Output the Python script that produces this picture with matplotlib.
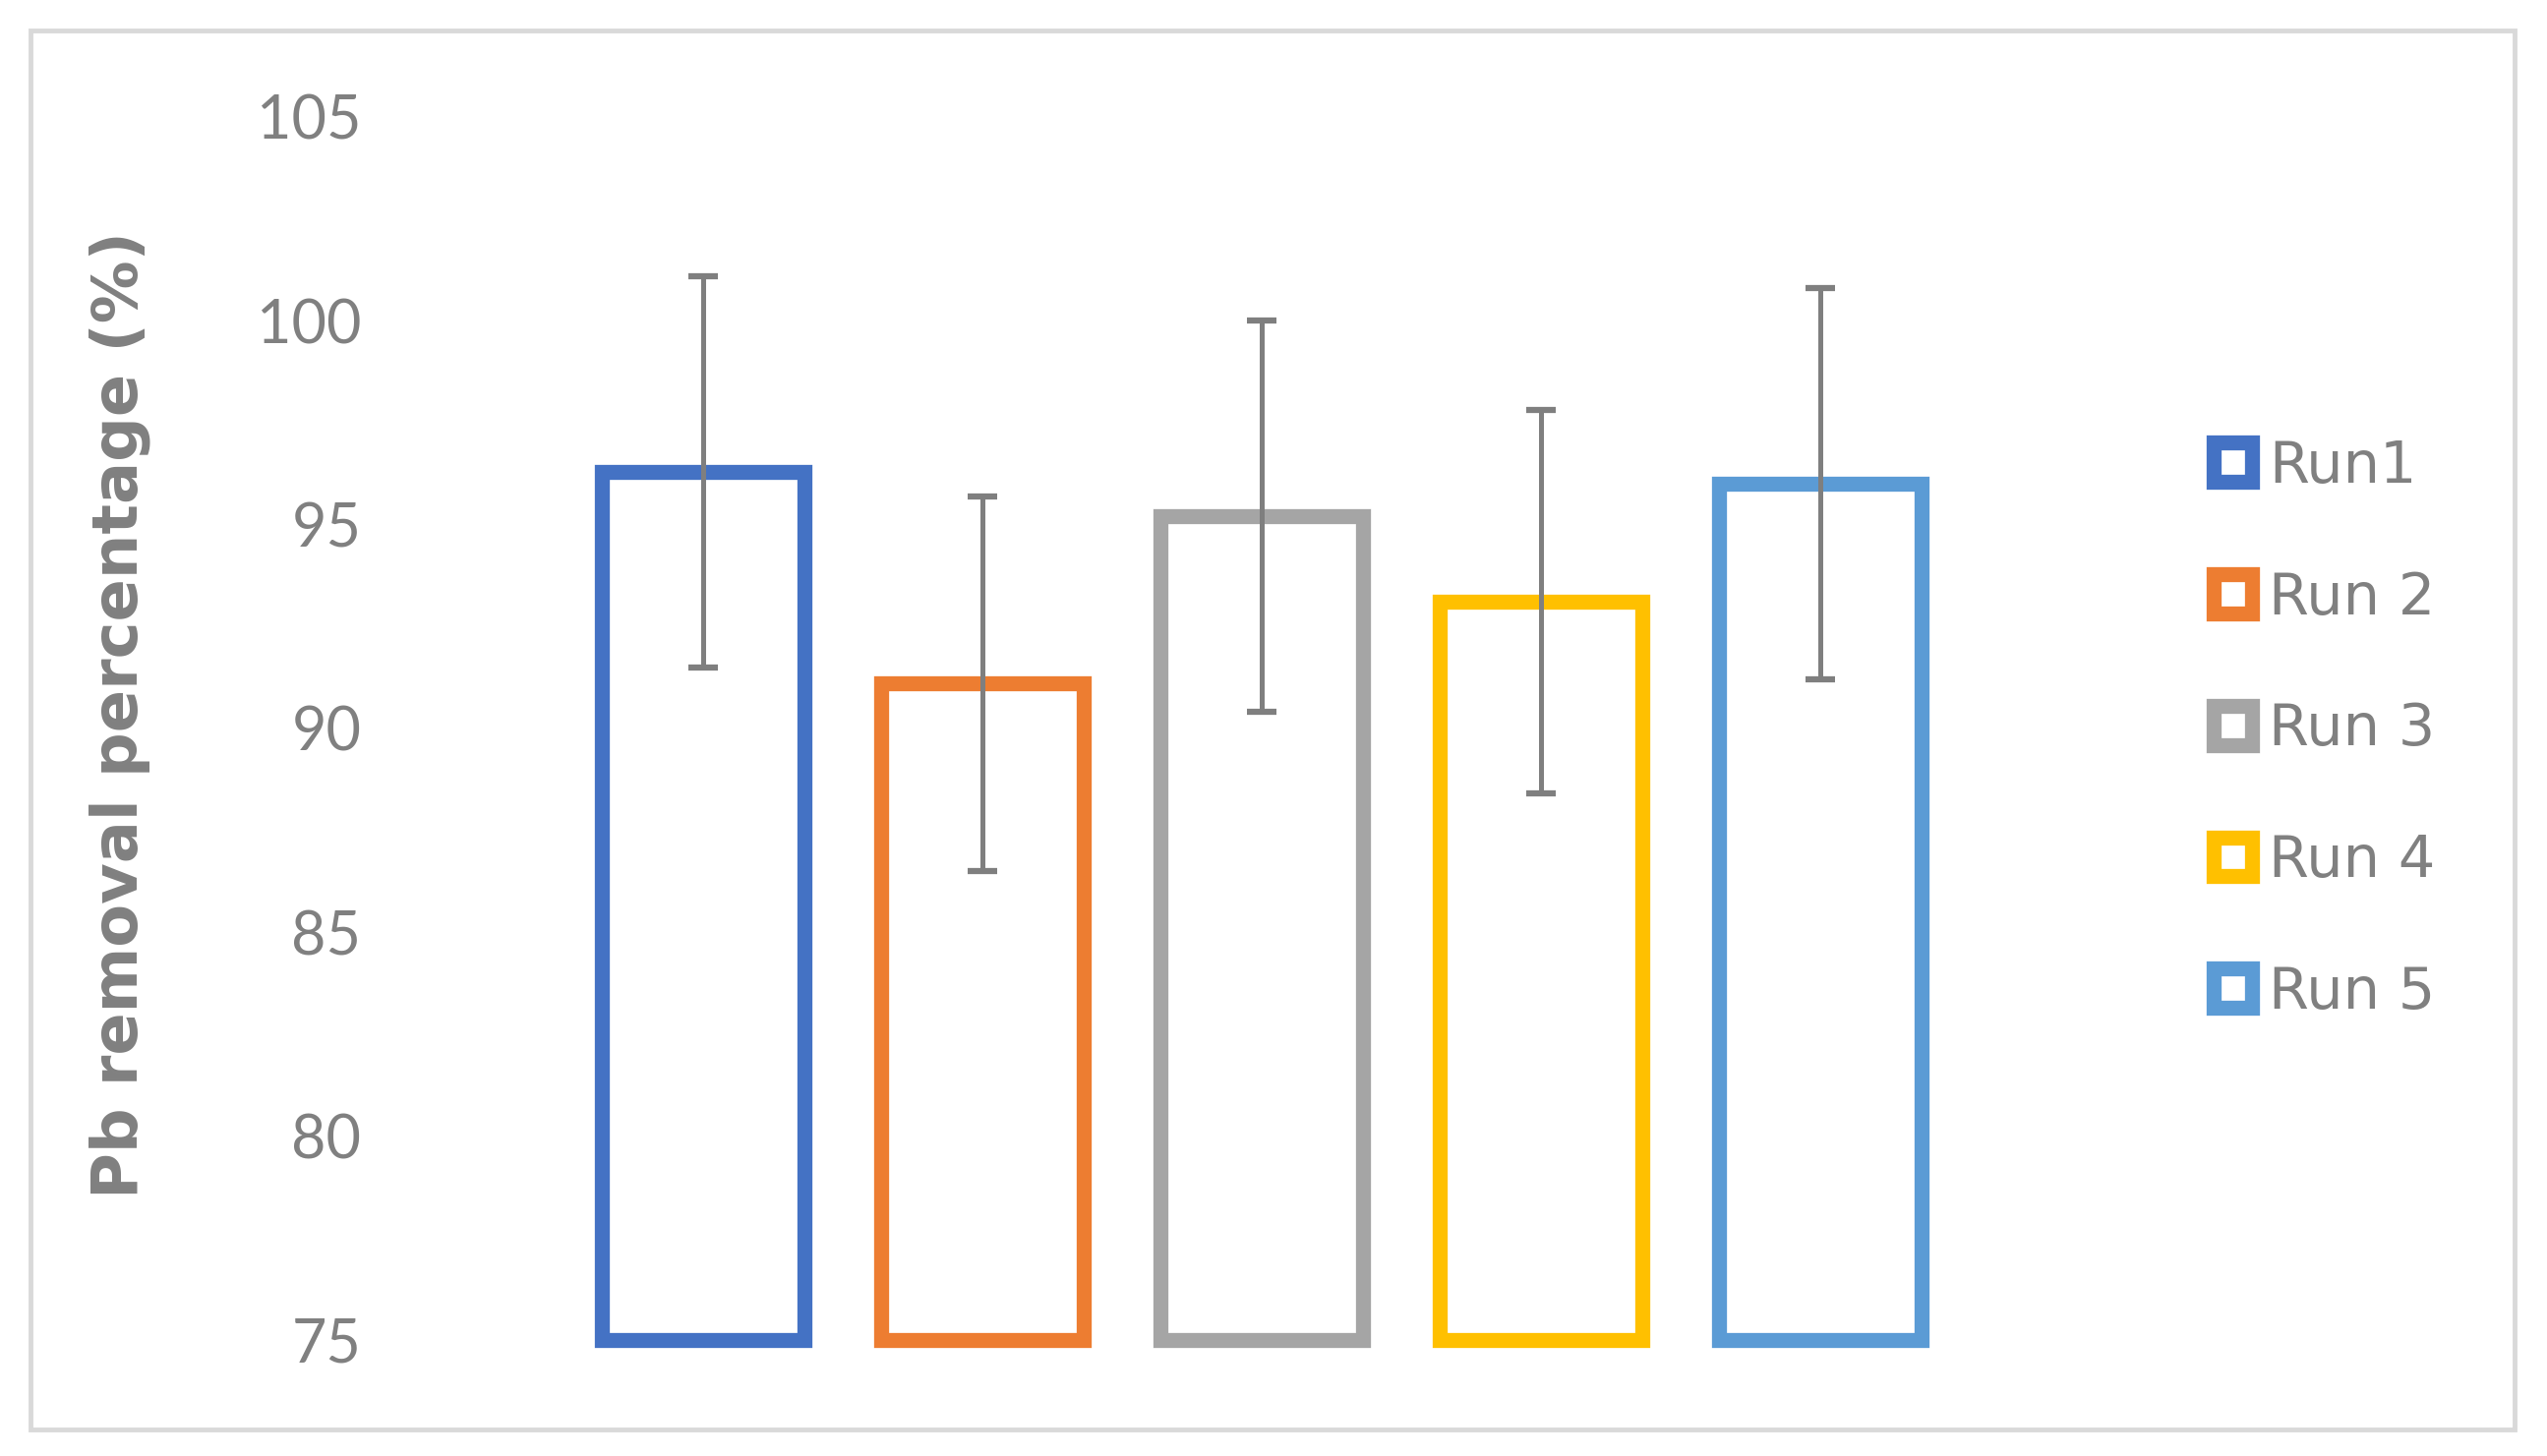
import matplotlib.pyplot as plt
from matplotlib.patches import Rectangle
import numpy as np

# data
runs = ["Run1", "Run 2", "Run 3", "Run 4", "Run 5"]
removal = [96.3, 91.1, 95.2, 93.1, 96.0]
err = [4.8, 4.6, 4.8, 4.7, 4.8]
colors = ["#4472C4", "#ED7D31", "#A5A5A5", "#FFC000", "#5B9BD5"]

txt_grey = "#808080"
base = 75

fig = plt.figure(figsize=(25.9, 14.81), dpi=100)
ax = fig.add_axes([0.1939, 0.0797, 0.603, 0.84])

x = np.arange(len(runs))
bars = ax.bar(x, np.array(removal) - base, bottom=base, width=0.725,
              facecolor="white", edgecolor=colors, linewidth=11, clip_on=False, zorder=2)
ax.errorbar(x, removal, yerr=err, fmt="none", ecolor="#7F7F7F", elinewidth=3.6,
            capsize=11, capthick=4.5, zorder=3, clip_on=False)

ax.set_xlim(-0.75, 4.75)
ax.set_ylim(75, 105)
ax.set_yticks([75, 80, 85, 90, 95, 100, 105])
ax.set_xticks([])
for s in ax.spines.values():
    s.set_visible(False)
ax.tick_params(axis="y", length=0, pad=97, labelsize=44, labelcolor=txt_grey)
for lbl in ax.get_yticklabels():
    lbl.set_family("Lato")

fig.text(0.047, 0.509, "Pb removal percentage (%)", rotation=90, ha="center", va="center",
         fontsize=46, fontweight="bold", color=txt_grey, family="DejaVu Sans")

# legend with hollow squares
handles = [Rectangle((0, 0), 1, 1, facecolor="white", edgecolor=c, linewidth=11) for c in colors]
leg = fig.legend(handles, runs, loc="center left", bbox_to_anchor=(0.869, 0.499),
                 frameon=False, fontsize=42.5, handlelength=0.66, handleheight=0.66,
                 handletextpad=0.3, labelspacing=1.3, borderpad=0, borderaxespad=0)
for t in leg.get_texts():
    t.set_color(txt_grey)

# chart border
fig.patches.append(Rectangle((31 / 2590, 1 - 1454 / 1481), (2557 - 31) / 2590, (1454 - 31) / 1481,
                             transform=fig.transFigure, fill=False, edgecolor="#D9D9D9", linewidth=3.5))

fig.savefig("out.png", dpi=100)
